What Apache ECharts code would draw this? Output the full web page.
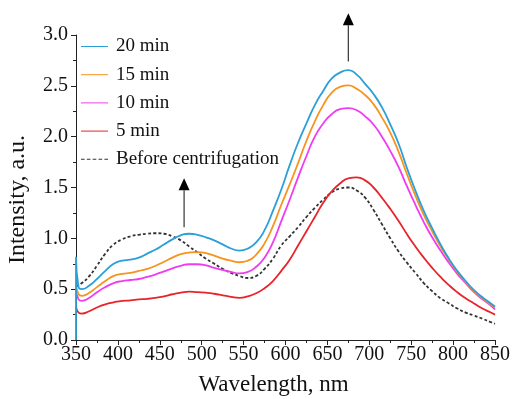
<!DOCTYPE html>
<html>
<head>
<meta charset="utf-8">
<script src="https://cdn.jsdelivr.net/npm/echarts@6/dist/echarts.min.js"></script>
<style>
html,body{margin:0;padding:0;background:#fff;}
#chart{width:512px;height:399px;}
</style>
</head>
<body>
<div id="chart"></div>
<script>
const wavelengths = [350,353,357,365,375,385,395,405,415,425,435,445,455,465,475,485,495,505,515,525,535,545,555,565,575,585,595,605,615,625,635,645,655,665,675,685,695,705,715,725,735,745,755,765,775,785,795,805,815,825,835,845,850];

const min20 = [0.82,0.52,0.50,0.53,0.60,0.68,0.75,0.78,0.79,0.81,0.85,0.89,0.94,0.99,1.03,1.045,1.035,1.01,0.98,0.94,0.90,0.88,0.90,0.96,1.08,1.27,1.48,1.72,1.94,2.13,2.31,2.45,2.57,2.63,2.655,2.61,2.52,2.42,2.29,2.12,1.93,1.69,1.47,1.27,1.10,0.94,0.80,0.68,0.58,0.49,0.42,0.36,0.33];
const min20Spike = 0.0;

const min15 = [0.55,0.45,0.435,0.46,0.52,0.58,0.63,0.65,0.66,0.68,0.70,0.73,0.77,0.81,0.845,0.86,0.865,0.855,0.83,0.80,0.78,0.765,0.78,0.84,0.95,1.12,1.33,1.53,1.74,1.96,2.15,2.31,2.43,2.49,2.505,2.47,2.41,2.32,2.19,2.04,1.85,1.63,1.42,1.23,1.07,0.92,0.79,0.67,0.57,0.48,0.41,0.35,0.32];

const min10 = [0.50,0.40,0.385,0.41,0.47,0.52,0.56,0.58,0.59,0.60,0.62,0.645,0.675,0.705,0.73,0.745,0.745,0.735,0.71,0.69,0.67,0.655,0.67,0.72,0.81,0.96,1.17,1.38,1.60,1.81,2.00,2.13,2.22,2.27,2.28,2.26,2.20,2.12,2.00,1.86,1.70,1.51,1.33,1.16,1.01,0.88,0.76,0.65,0.56,0.47,0.40,0.34,0.30];

const min5 = [0.33,0.27,0.26,0.28,0.32,0.35,0.37,0.385,0.39,0.40,0.405,0.415,0.43,0.45,0.465,0.475,0.47,0.465,0.455,0.44,0.425,0.415,0.43,0.46,0.51,0.58,0.68,0.79,0.93,1.07,1.21,1.35,1.46,1.54,1.59,1.60,1.57,1.50,1.40,1.29,1.17,1.04,0.92,0.81,0.71,0.62,0.54,0.47,0.41,0.36,0.31,0.27,0.25];

const before = [0.53,0.54,0.56,0.62,0.73,0.85,0.94,0.99,1.02,1.035,1.045,1.05,1.045,1.02,0.98,0.92,0.86,0.80,0.75,0.70,0.66,0.63,0.61,0.63,0.70,0.80,0.93,1.02,1.11,1.21,1.30,1.38,1.45,1.49,1.50,1.47,1.40,1.28,1.14,1.00,0.87,0.76,0.66,0.56,0.48,0.41,0.36,0.31,0.27,0.24,0.21,0.175,0.16];

const seriesNames = ['20 min','15 min','10 min','5 min','Before centrifugation'];
const seriesColors = ['#2a9fd8','#f7941d','#f03cf0','#e8232a','#333333'];

const xTicks = {min:350, max:850, interval:50};
const yTicks = {min:0, max:3, interval:0.5};

// arrows (annotation): [wavelength, from, tip]
const arrowBig = [675, 2.74, 3.215];
const arrowSmall = [479, 1.11, 1.59];

function pairs(ys){ return wavelengths.map((w,i)=>[w, ys[i]]); }

const FONT = '"Liberation Serif", "Times New Roman", serif';
const chart = echarts.init(document.getElementById('chart'), null, {renderer:'canvas'});

const SOLID_ICON = 'path://M0,0h27v1h-27z';
const DASH_ICON = 'path://M0,0h3.6v1h-3.6z M5.85,0h3.6v1h-3.6z M11.7,0h3.6v1h-3.6z M17.55,0h3.6v1h-3.6z M23.4,0h3.6v1h-3.6z';

const allY = [min20, min15, min10, min5, before];
const series = allY.map((ys, k) => {
  let d = pairs(ys);
  if (k === 0) d = [[350, min20Spike]].concat(d);
  return {
    name: seriesNames[k],
    type: 'line',
    data: d,
    smooth: 0.55,
    symbol: 'none',
    z: 5 - k,
    lineStyle: {
      color: seriesColors[k],
      width: 1.8,
      type: k === 4 ? [3, 2.2] : 'solid'
    },
    itemStyle: {color: seriesColors[k]},
    emphasis: {disabled: true},
    animation: false
  };
});

chart.setOption({
  animation: false,
  backgroundColor: '#fff',
  grid: {left: 76, right: 17, top: 35, bottom: 59, containLabel: false, outerBoundsMode: 'none'},
  legend: {
    data: seriesNames.map((n, k) => ({name: n, icon: k === 4 ? DASH_ICON : SOLID_ICON})),
    orient: 'vertical',
    left: 76,
    top: 32,
    itemWidth: 27,
    itemHeight: 1.8,
    itemGap: 9.2,
    selectedMode: false,
    textStyle: {fontFamily: FONT, fontSize: 19, color: '#111', padding: [0,0,0,3]}
  },
  xAxis: {
    type: 'value',
    min: xTicks.min, max: xTicks.max, interval: xTicks.interval,
    name: 'Wavelength, nm',
    nameLocation: 'middle',
    nameGap: 33,
    nameTextStyle: {fontFamily: FONT, fontSize: 23, color: '#111', padding: [0, 24, 0, 0]},
    axisLine: {show: true, onZero: false, lineStyle: {color: '#222', width: 1}},
    axisTick: {show: true, inside: false, length: 5, lineStyle: {color: '#222'}},
    minorTick: {show: true, splitNumber: 2, length: 3, lineStyle: {color: '#222'}},
    axisLabel: {fontFamily: FONT, fontSize: 20, color: '#111', margin: 5},
    splitLine: {show: false}
  },
  yAxis: {
    type: 'value',
    min: yTicks.min, max: yTicks.max, interval: yTicks.interval,
    name: 'Intensity, a.u.',
    nameLocation: 'middle',
    nameGap: 46,
    nameRotate: 90,
    nameTextStyle: {fontFamily: FONT, fontSize: 24, color: '#111', padding: [0, 24, 0, 0]},
    axisLine: {show: true, onZero: false, lineStyle: {color: '#222', width: 1}},
    axisTick: {show: true, inside: false, length: 5, lineStyle: {color: '#222'}},
    minorTick: {show: true, splitNumber: 2, length: 3, lineStyle: {color: '#222'}},
    axisLabel: {fontFamily: FONT, fontSize: 20, color: '#111', margin: 8, formatter: v => v.toFixed(1)},
    splitLine: {show: false}
  },
  series: series
});

function arrowGraphic(a){
  const base = chart.convertToPixel({xAxisIndex:0, yAxisIndex:0}, [a[0], a[1]]);
  const tip = chart.convertToPixel({xAxisIndex:0, yAxisIndex:0}, [a[0], a[2]]);
  const hw = 5.5, hh = 12;
  return [
    {type:'line', silent:true, z:10, shape:{x1:base[0], y1:base[1], x2:tip[0], y2:tip[1]+hh}, style:{stroke:'#444', lineWidth:1.3}},
    {type:'polygon', silent:true, z:10, shape:{points:[[tip[0], tip[1]], [tip[0]-hw, tip[1]+hh], [tip[0]+hw, tip[1]+hh]]}, style:{fill:'#000'}}
  ];
}
chart.setOption({graphic: arrowGraphic(arrowBig).concat(arrowGraphic(arrowSmall))});
</script>
</body>
</html>
